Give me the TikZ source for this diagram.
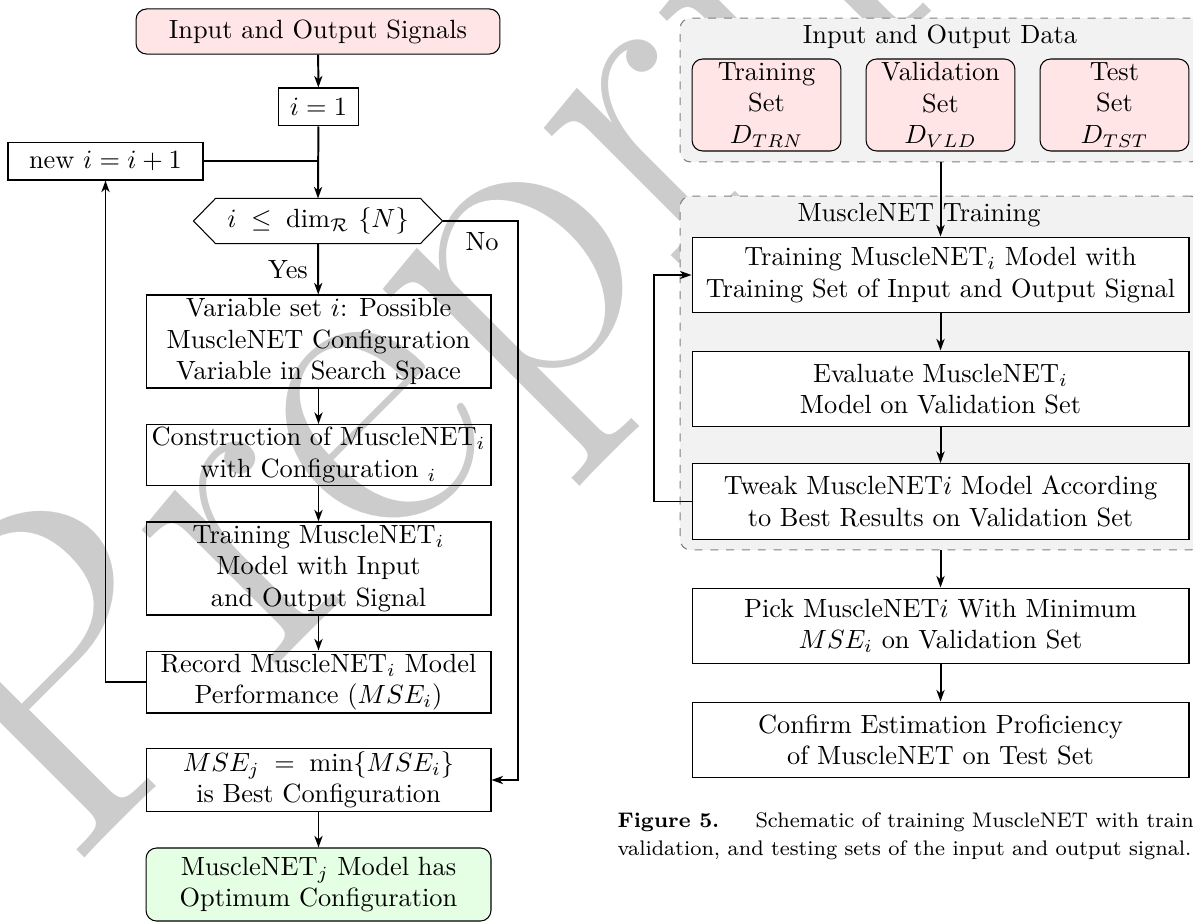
\documentclass[tikz,border=0pt]{standalone}
\usepackage{fontspec}
\usetikzlibrary{arrows.meta,calc}
\begin{document}
\begin{tikzpicture}[x=0.3795pt,y=-0.3795pt,
  box/.style={draw, line width=0.4pt, align=center, inner sep=1pt},
  wide/.style={box, minimum width=130.9pt},
  rwide/.style={box, fill=white, minimum width=188.6pt, minimum height=28.8pt},
  roundbox/.style={box, rounded corners=4pt},
  setbox/.style={box, rounded corners=4pt, fill=red!10, minimum width=56.5pt, minimum height=34.9pt},
  group/.style={draw=gray, dashed, fill=gray!10, rounded corners=4pt, minimum width=197.7pt, inner sep=0pt},
  arr/.style={-{Stealth[length=4.4pt,width=3.1pt,inset=1.3pt]}, line width=0.75pt},
  link/.style={line width=0.75pt},
  wmtext/.style={text=gray!40, font=\fontsize{170}{170}\selectfont, inner sep=0pt}
]
\useasboundingbox (0,0) rectangle (1193,923);
\clip (0,0) rectangle (1193,923);

% background watermark
\node[wmtext, rotate=45, anchor=base west] (wm) at (68,875) {Preprint};

% shaded frames of the right-hand chart
\node[group, minimum height=54.6pt] (g1) at (940.5,90) {};
\node[group, minimum height=134.3pt] (g2) at (940.5,373) {};

% ---------------- left chart ----------------
\node[roundbox, fill=red!10, minimum width=138.1pt, minimum height=17.1pt] (sig) at (318,31.5) {Input and Output Signals};
\node[box, minimum width=30.7pt, minimum height=14.4pt] (i1) at (318.5,107) {$i = 1$};
\node[box, minimum width=74pt, minimum height=14.4pt] (newi) at (105.5,161) {new $i = i + 1$};
\node[inner sep=0pt, minimum width=94.1pt, minimum height=16.7pt] (hex) at (318,221) {$i\;\leq\;\dim_{\mathcal{R}}~\{N\}$};
\draw[line width=0.4pt] (hex.west) -- ($(hex.north west)+(22,0)$) -- ($(hex.north east)+(-22,0)$)
  -- (hex.east) -- ($(hex.south east)+(-22,0)$) -- ($(hex.south west)+(22,0)$) -- cycle;

\node[wide, minimum height=35.3pt] (var) at (318.5,341.5) {Variable set $i$: Possible\\MuscleNET Configuration\\Variable in Search Space};
\node[wide, minimum height=22.8pt] (cons) at (318.5,455) {Construction of MuscleNET$_i$\\with Configuration $_i$};
\node[wide, minimum height=35.3pt] (trn) at (318.5,568.5) {Training MuscleNET$_i$\\Model with Input\\and Output Signal};
\node[wide, minimum height=23.5pt] (rec) at (318.5,682) {Record MuscleNET$_i$ Model\\Performance ($MSE_i$)};
\node[wide, minimum height=23.5pt] (mse) at (318.5,780) {$MSE_j\;=\;\min\{MSE_i\}$\\is Best Configuration};
\node[wide, rounded corners=4pt, fill=green!10, minimum height=27.7pt] (opt) at (318.5,884.5) {MuscleNET$_j$ Model has\\Optimum Configuration};

\node (yes) at (288,270) {Yes};
\node (no) at (482,242) {No};
\coordinate (nox) at (518,221);

\draw[arr] (sig) -- (i1);
\draw[arr] (i1) -- (hex.north);
\draw[link] (newi.east) -- (newi.east -| i1.south);
\draw[arr] (hex.south) -- (var);
\draw[arr] (var) -- (cons);
\draw[arr] (cons) -- (trn);
\draw[arr] (trn) -- (rec);
\draw[arr] (rec.west) -| (newi.south);
\draw[arr] (hex.east) -- (nox) |- (mse.east);
\draw[arr] (mse) -- (opt);

% ---------------- right chart ----------------
\node (t1) at (940,37) {Input and Output Data};
\node[setbox] (dtrn) at (766.5,105) {Training\\Set\\$D_{TRN}$};
\node[setbox] (dvld) at (940.5,105) {Validation\\Set\\$D_{VLD}$};
\node[setbox] (dtst) at (1114.5,105) {Test\\Set\\$D_{TST}$};

\node (t2) at (919,215) {MuscleNET Training};
\node[rwide] (rtrn) at (940.5,275) {Training MuscleNET$_i$ Model with\\Training Set of Input and Output Signal};
\node[rwide] (eval) at (940.5,389) {Evaluate MuscleNET$_i$\\Model on Validation Set};
\node[rwide] (tweak) at (940.5,501.5) {Tweak MuscleNET$i$ Model According\\to Best Results on Validation Set};
\node[rwide] (pick) at (940.5,626) {Pick MuscleNET$i$ With Minimum\\$MSE_i$ on Validation Set};
\node[rwide] (conf) at (940.5,740) {Confirm Estimation Proficiency\\of MuscleNET on Test Set};
\coordinate (loopc) at (654,501.5);

\draw[arr] (g1.south) -- (rtrn.north);
\draw[arr] (rtrn) -- (eval);
\draw[arr] (eval) -- (tweak);
\draw[arr] (tweak.west) -- (loopc) |- (rtrn.west);
\draw[arr] (g2.south) -- (pick.north);
\draw[arr] (pick) -- (conf);

% caption
\begin{scope}[every node/.style={anchor=base west, inner sep=0pt, font=\fontsize{8}{10.6}\selectfont}]
\node[font=\fontsize{8}{10.6}\selectfont\bfseries] (fig) at (617,827) {Figure 5.};
\node (cap1) at (755,827) {Schematic of training MuscleNET with training,};
\node (cap2) at (617,855) {validation, and testing sets of the input and output signal.};
\end{scope}
\end{tikzpicture}
\end{document}
